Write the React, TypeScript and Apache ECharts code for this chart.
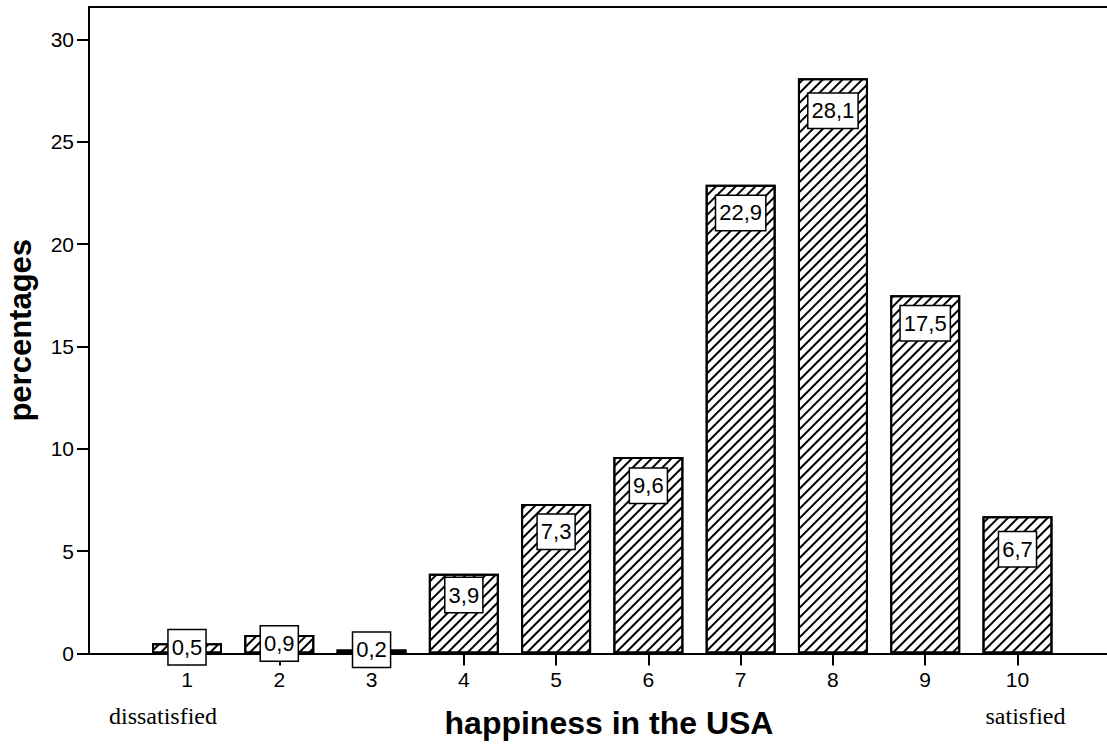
import React, { useEffect, useRef } from "react";
import * as echarts from "echarts";

const categories = [1, 2, 3, 4, 5, 6, 7, 8, 9, 10];
const values = [0.5, 0.9, 0.2, 3.9, 7.3, 9.6, 22.9, 28.1, 17.5, 6.7];
const yTicks = [0, 5, 10, 15, 20, 25, 30];
const xTitle = "happiness in the USA";
const yTitle = "percentages";
const leftNote = "dissatisfied";
const rightNote = "satisfied";

// label box vertical shift (px) relative to bar top — style only
const labelShift = [-13, -8.6, -16.6, 4.4, 10.7, 11.7, 11.3, 15.6, 11, 16];

const SANS = "'Liberation Sans', Arial, sans-serif";
const SERIF = "'Liberation Serif', 'Times New Roman', serif";

export default function App() {
  const ref = useRef<HTMLDivElement>(null);
  useEffect(() => {
    if (!ref.current) return;
    const chart = echarts.init(ref.current, null, { renderer: "svg" });
    const xMin = -0.062;
    const xMax = 10.97;
    const axisLine = { show: true, onZero: false, lineStyle: { color: "#000", width: 2 } };
    chart.setOption({
      animation: false,
      backgroundColor: "#fff",
      grid: {
        left: 89,
        right: 0,
        top: 7,
        bottom: 94.5,
        containLabel: false,
        outerBoundsMode: "none",
      },
      xAxis: [
        {
          type: "value",
          min: xMin,
          max: xMax,
          axisLine: axisLine,
          splitLine: { show: false },
          axisTick: {
            show: true,
            length: 12,
            lineStyle: { color: "#000", width: 2 },
            customValues: categories,
          },
          axisLabel: {
            show: true,
            customValues: categories,
            margin: 15,
            fontSize: 21,
            color: "#000",
            fontFamily: SANS,
          },
          name: xTitle,
          nameLocation: "middle",
          nameGap: 53,
          nameTextStyle: {
            fontSize: 32,
            fontWeight: "bold",
            color: "#000",
            fontFamily: SANS,
            padding: [0, 0, 0, 22],
          },
        },
        {
          type: "value",
          position: "top",
          min: xMin,
          max: xMax,
          axisLine: axisLine,
          axisTick: { show: false },
          axisLabel: { show: false },
          splitLine: { show: false },
        },
      ],
      yAxis: {
        type: "value",
        min: 0,
        max: 31.58,
        axisLine: axisLine,
        splitLine: { show: false },
        axisTick: {
          show: true,
          length: 12,
          lineStyle: { color: "#000", width: 2 },
          customValues: yTicks,
        },
        axisLabel: {
          show: true,
          customValues: yTicks,
          margin: 15,
          fontSize: 21,
          color: "#000",
          fontFamily: SANS,
        },
        name: yTitle,
        nameLocation: "middle",
        nameRotate: 90,
        nameGap: 53,
        nameTextStyle: {
          fontSize: 31,
          fontWeight: "bold",
          color: "#000",
          fontFamily: SANS,
        },
      },
      series: [
        {
          type: "bar",
          xAxisIndex: 0,
          barWidth: 70,
          data: categories.map((c, i) => ({
            value: [c, values[i]],
            label: { offset: [0, labelShift[i]] },
          })),
          itemStyle: {
            color: "#fff",
            borderColor: "#000",
            borderWidth: 2,
            decal: {
              symbol: "rect",
              symbolSize: 1,
              dashArrayX: [1, 0],
              dashArrayY: [1.6, 4.2],
              rotation: -Math.PI / 4,
              color: "#000",
              backgroundColor: "#fff",
            },
          },
          label: {
            show: true,
            position: "insideTop",
            distance: 0,
            formatter: (p: any) => String(p.value[1]).replace(".", ","),
            fontSize: 22,
            lineHeight: 22,
            color: "#000",
            fontFamily: SANS,
            backgroundColor: "#fff",
            borderColor: "#000",
            borderWidth: 1.5,
            padding: [6, 3, 6, 3],
          },
          z: 2,
        },
      ],
      graphic: [
        {
          type: "text",
          x: 163,
          y: 716,
          style: {
            text: leftNote,
            font: `24px ${SERIF}`,
            fill: "#000",
            textAlign: "center",
            textVerticalAlign: "middle",
          },
        },
        {
          type: "text",
          x: 1025.5,
          y: 716,
          style: {
            text: rightNote,
            font: `24px ${SERIF}`,
            fill: "#000",
            textAlign: "center",
            textVerticalAlign: "middle",
          },
        },
      ],
    });
    return () => chart.dispose();
  }, []);
  return (
    <div
      ref={ref}
      style={{ position: "absolute", left: 0, top: 0, width: 1107, height: 748 }}
    />
  );
}
